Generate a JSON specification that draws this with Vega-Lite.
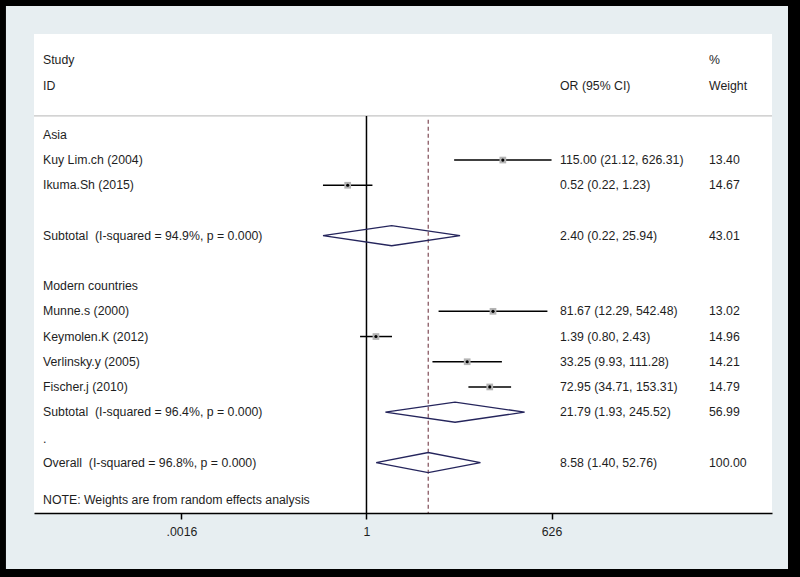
{
  "$schema": "https://vega.github.io/schema/vega-lite/v6.json",
  "width": 738,
  "height": 479,
  "autosize": {"type": "none"},
  "padding": {"left": 34, "top": 34, "right": 28, "bottom": 64},
  "background": "#000000",
  "config": {"view": {"stroke": null}, "font": "Liberation Sans"},
  "datasets": {
    "rows": [
      {"row": 1.03, "label": "Study", "wt": "%"},
      {"row": 2.06, "label": "ID", "ci": "OR (95% CI)", "wt": "Weight"},
      {"row": 4, "label": "Asia"},
      {"row": 5, "label": "Kuy Lim.ch (2004)", "kind": "study", "est": 115.0, "lo": 21.12, "hi": 626.31, "ci": "115.00 (21.12, 626.31)", "wt": "13.40"},
      {"row": 6, "label": "Ikuma.Sh (2015)", "kind": "study", "est": 0.52, "lo": 0.22, "hi": 1.23, "ci": "0.52 (0.22, 1.23)", "wt": "14.67"},
      {"row": 8, "label": "Subtotal\u00a0 (I-squared = 94.9%, p = 0.000)", "kind": "subtotal", "ci": "2.40 (0.22, 25.94)", "wt": "43.01"},
      {"row": 10, "label": "Modern countries"},
      {"row": 11, "label": "Munne.s (2000)", "kind": "study", "est": 81.67, "lo": 12.29, "hi": 542.48, "ci": "81.67 (12.29, 542.48)", "wt": "13.02"},
      {"row": 12, "label": "Keymolen.K (2012)", "kind": "study", "est": 1.39, "lo": 0.8, "hi": 2.43, "ci": "1.39 (0.80, 2.43)", "wt": "14.96"},
      {"row": 13, "label": "Verlinsky.y (2005)", "kind": "study", "est": 33.25, "lo": 9.93, "hi": 111.28, "ci": "33.25 (9.93, 111.28)", "wt": "14.21"},
      {"row": 14, "label": "Fischer.j (2010)", "kind": "study", "est": 72.95, "lo": 34.71, "hi": 153.31, "ci": "72.95 (34.71, 153.31)", "wt": "14.79"},
      {"row": 15, "label": "Subtotal\u00a0 (I-squared = 96.4%, p = 0.000)", "kind": "subtotal", "ci": "21.79 (1.93, 245.52)", "wt": "56.99"},
      {"row": 16.05, "label": "."},
      {"row": 17, "label": "Overall\u00a0 (I-squared = 96.8%, p = 0.000)", "kind": "overall", "ci": "8.58 (1.40, 52.76)", "wt": "100.00"},
      {"row": 18.48, "label": "NOTE: Weights are from random effects analysis"}
    ],
    "diamonds": [
      {"g": "Asia", "v": 1, "x": 0.22, "y": 8},
      {"g": "Asia", "v": 2, "x": 2.4, "y": 7.6},
      {"g": "Asia", "v": 3, "x": 25.94, "y": 8},
      {"g": "Asia", "v": 4, "x": 2.4, "y": 8.4},
      {"g": "Asia", "v": 5, "x": 0.22, "y": 8},
      {"g": "Modern", "v": 1, "x": 1.93, "y": 15},
      {"g": "Modern", "v": 2, "x": 21.79, "y": 14.6},
      {"g": "Modern", "v": 3, "x": 245.52, "y": 15},
      {"g": "Modern", "v": 4, "x": 21.79, "y": 15.4},
      {"g": "Modern", "v": 5, "x": 1.93, "y": 15},
      {"g": "Overall", "v": 1, "x": 1.4, "y": 17},
      {"g": "Overall", "v": 2, "x": 8.58, "y": 16.6},
      {"g": "Overall", "v": 3, "x": 52.76, "y": 17},
      {"g": "Overall", "v": 4, "x": 8.58, "y": 17.4},
      {"g": "Overall", "v": 5, "x": 1.4, "y": 17}
    ]
  },
  "layer": [
    {
      "data": {"values": [{}]},
      "mark": {"type": "rect", "color": "#e7eef1"},
      "encoding": {
        "x": {"datum": 3.56e-6, "type": "quantitative", "scale": {"type": "log", "domain": [9.45e-6, 1.344e6], "nice": false, "zero": false},
          "axis": {"values": [0.0016, 1, 626], "labelExpr": "datum.value < 0.01 ? '.0016' : datum.value < 10 ? '1' : '626'", "title": null, "grid": false, "zindex": 2, "domainColor": "#000000", "domainWidth": 1.5, "tickColor": "#000000", "tickWidth": 1.5, "tickSize": 6, "labelFontSize": 12.3, "labelColor": "#1e1e1e", "labelPadding": 6, "labelFont": "Liberation Sans", "labelFlush": false, "labelOverlap": false}},
        "x2": {"datum": 2.345e6},
        "y": {"datum": -1.111, "type": "quantitative", "scale": {"domain": [0, 19], "reverse": true, "nice": false, "zero": false}, "axis": null},
        "y2": {"datum": 21.221}
      }
    },
    {
      "data": {"values": [{}]},
      "mark": {"type": "rect", "color": "#ffffff"},
      "encoding": {
        "x": {"datum": 9.45e-6, "type": "quantitative"},
        "x2": {"datum": 1.344e6},
        "y": {"datum": 0, "type": "quantitative"},
        "y2": {"datum": 19}
      }
    },
    {
      "data": {"values": [{}]},
      "mark": {"type": "rule", "color": "#c4c4c4", "strokeWidth": 1.3},
      "encoding": {
        "x": {"datum": 9.45e-6, "type": "quantitative"},
        "x2": {"datum": 1.344e6},
        "y": {"datum": 3.25, "type": "quantitative"}
      }
    },
    {
      "data": {"values": [{}]},
      "mark": {"type": "rule", "color": "#000000", "strokeWidth": 1.5},
      "encoding": {
        "x": {"datum": 1, "type": "quantitative"},
        "y": {"datum": 3.25, "type": "quantitative"},
        "y2": {"datum": 19}
      }
    },
    {
      "data": {"values": [{}]},
      "mark": {"type": "rule", "color": "#8a5a64", "strokeWidth": 1.3, "strokeDash": [4, 3]},
      "encoding": {
        "x": {"datum": 8.58, "type": "quantitative"},
        "y": {"datum": 3.4, "type": "quantitative"},
        "y2": {"datum": 19}
      }
    },
    {
      "data": {"name": "rows"},
      "transform": [{"filter": "datum.kind == 'study'"}],
      "mark": {"type": "rule", "color": "#000000", "strokeWidth": 1.5},
      "encoding": {
        "x": {"field": "lo", "type": "quantitative"},
        "x2": {"field": "hi"},
        "y": {"field": "row", "type": "quantitative"}
      }
    },
    {
      "data": {"name": "rows"},
      "transform": [{"filter": "datum.kind == 'study'"}],
      "mark": {"type": "point", "shape": "square", "filled": true, "color": "#b4b4b4", "opacity": 1, "size": 45},
      "encoding": {
        "x": {"field": "est", "type": "quantitative"},
        "y": {"field": "row", "type": "quantitative"}
      }
    },
    {
      "data": {"name": "rows"},
      "transform": [{"filter": "datum.kind == 'study'"}],
      "mark": {"type": "point", "shape": "circle", "filled": true, "color": "#000000", "opacity": 1, "size": 10},
      "encoding": {
        "x": {"field": "est", "type": "quantitative"},
        "y": {"field": "row", "type": "quantitative"}
      }
    },
    {
      "data": {"name": "diamonds"},
      "mark": {"type": "line", "color": "#25255c", "strokeWidth": 1.3},
      "encoding": {
        "x": {"field": "x", "type": "quantitative"},
        "y": {"field": "y", "type": "quantitative"},
        "detail": {"field": "g"},
        "order": {"field": "v", "type": "quantitative"}
      }
    },
    {
      "data": {"name": "rows"},
      "transform": [{"filter": "isValid(datum.label)"}],
      "mark": {"type": "text", "align": "left", "baseline": "middle", "fontSize": 12.3, "color": "#1e1e1e", "font": "Liberation Sans"},
      "encoding": {
        "x": {"datum": 1.2925e-5, "type": "quantitative"},
        "y": {"field": "row", "type": "quantitative"},
        "text": {"field": "label"}
      }
    },
    {
      "data": {"name": "rows"},
      "transform": [{"filter": "isValid(datum.ci)"}],
      "mark": {"type": "text", "align": "left", "baseline": "middle", "fontSize": 12.3, "color": "#1e1e1e", "font": "Liberation Sans"},
      "encoding": {
        "x": {"datum": 841, "type": "quantitative"},
        "y": {"field": "row", "type": "quantitative"},
        "text": {"field": "ci"}
      }
    },
    {
      "data": {"name": "rows"},
      "transform": [{"filter": "isValid(datum.wt)"}],
      "mark": {"type": "text", "align": "left", "baseline": "middle", "fontSize": 12.3, "color": "#1e1e1e", "font": "Liberation Sans"},
      "encoding": {
        "x": {"datum": 150100, "type": "quantitative"},
        "y": {"field": "row", "type": "quantitative"},
        "text": {"field": "wt"}
      }
    }
  ]
}
